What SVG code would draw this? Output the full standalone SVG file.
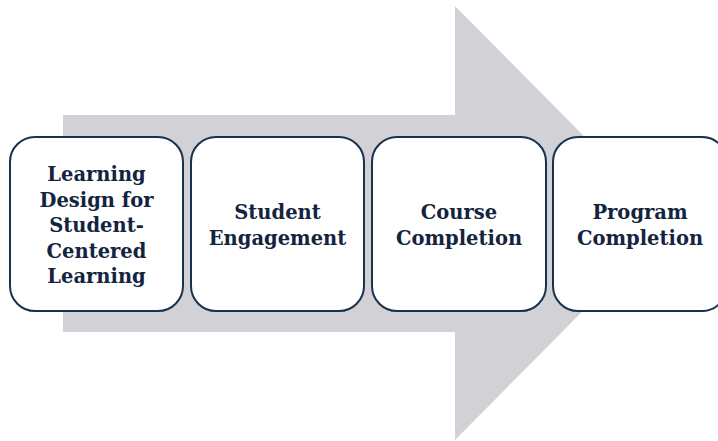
<svg xmlns="http://www.w3.org/2000/svg" width="718" height="441" viewBox="0 0 718 441">
<style>
.box{fill:#ffffff;stroke:#17324f;stroke-width:2}
.lbl{font-family:"DejaVu Serif","Liberation Serif",serif;font-size:19.5px;font-weight:bold;fill:#14243f;text-anchor:middle}
</style>
<rect width="718" height="441" fill="#ffffff"/>
<g id="arrow">
<polygon points="63,115 455,115 455,6 670,223 455,440 455,332 63,332" fill="#d1d1d6"/>
</g>
<g id="connectors"></g>
<g id="n1">
<rect class="box" x="10" y="137" width="173" height="174" rx="25"/>
<text class="lbl" x="96.5" y="181">Learning</text>
<text class="lbl" x="96.5" y="206.5">Design for</text>
<text class="lbl" x="96.5" y="232">Student-</text>
<text class="lbl" x="96.5" y="257.5">Centered</text>
<text class="lbl" x="96.5" y="283">Learning</text>
</g>
<g id="n2">
<rect class="box" x="191" y="137" width="173" height="174" rx="25"/>
<text class="lbl" x="277.5" y="219">Student</text>
<text class="lbl" x="277.5" y="245">Engagement</text>
</g>
<g id="n3">
<rect class="box" x="372" y="137" width="174" height="174" rx="25"/>
<text class="lbl" x="459" y="219">Course</text>
<text class="lbl" x="459" y="245">Completion</text>
</g>
<g id="n4">
<rect class="box" x="553" y="137" width="174" height="174" rx="25"/>
<text class="lbl" x="640" y="219">Program</text>
<text class="lbl" x="640" y="245">Completion</text>
</g>
</svg>
